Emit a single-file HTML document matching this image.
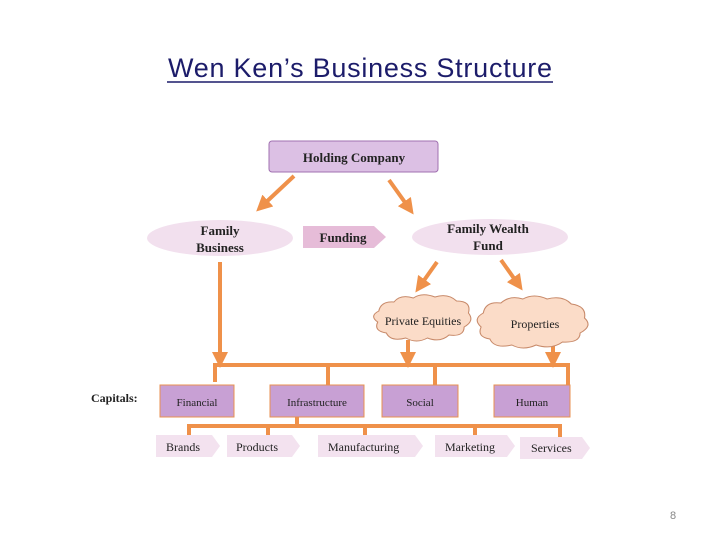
<!DOCTYPE html>
<html><head><style>
body{margin:0;width:720px;height:540px;background:#fff;overflow:hidden;font-family:"Liberation Serif",serif;}
svg text{font-family:"Liberation Serif",serif;}
</style></head><body>
<svg width="720" height="540" viewBox="0 0 720 540">
<defs>
<marker id="ah" markerWidth="4" markerHeight="4" refX="2" refY="2" orient="auto" markerUnits="strokeWidth">
<path d="M0,0 L4,2 L0,4 z" fill="#ef914a"/></marker>
</defs>
<text x="168" y="77" font-size="27" fill="#1c1c6a" textLength="384" lengthAdjust="spacing" style="font-family:'Liberation Sans',sans-serif">Wen Ken’s Business Structure</text>
<line x1="167" y1="82" x2="553" y2="82" stroke="#1c1c6a" stroke-width="1.5"/>

<rect x="269" y="141" width="169" height="31" rx="3" fill="#dcc0e4" stroke="#a070b0"/>
<text x="354" y="162" text-anchor="middle" font-size="13" font-weight="bold" fill="#222">Holding Company</text>

<g stroke="#ef914a" stroke-width="4" fill="none" marker-end="url(#ah)">
<line x1="294" y1="176" x2="262" y2="206"/>
<line x1="389" y1="180" x2="409" y2="208"/>
<line x1="437" y1="262" x2="420" y2="286"/>
<line x1="501" y1="260" x2="518" y2="284"/>
<line x1="220" y1="262" x2="220" y2="360"/>
<line x1="408" y1="340" x2="408" y2="360"/>
<line x1="553" y1="340" x2="553" y2="360"/>
</g>
<g stroke="#ef914a" stroke-width="4" fill="none">
<polyline points="215,382 215,365 568,365 568,385"/>
<line x1="328" y1="365" x2="328" y2="385"/>
<line x1="435" y1="365" x2="435" y2="385"/>
<line x1="297" y1="417" x2="297" y2="426"/>
<polyline points="189,437 189,426 560,426 560,437"/>
<line x1="268" y1="426" x2="268" y2="437"/>
<line x1="365" y1="426" x2="365" y2="437"/>
<line x1="475" y1="426" x2="475" y2="437"/>
</g>

<ellipse cx="220" cy="238" rx="73" ry="18" fill="#f2e0ee"/>
<text x="220" y="235" text-anchor="middle" font-size="13" font-weight="bold" fill="#222">Family</text>
<text x="220" y="252" text-anchor="middle" font-size="13" font-weight="bold" fill="#222">Business</text>

<path d="M303,226 L374,226 L386,237 L374,248 L303,248 z" fill="#e6bcd8"/>
<text x="343" y="242" text-anchor="middle" font-size="13" font-weight="bold" fill="#222">Funding</text>

<ellipse cx="490" cy="237" rx="78" ry="18" fill="#f2e0ee"/>
<text x="488" y="233" text-anchor="middle" font-size="13" font-weight="bold" fill="#222">Family Wealth</text>
<text x="488" y="250" text-anchor="middle" font-size="13" font-weight="bold" fill="#222">Fund</text>

<g fill="#fbdcc8" stroke="#c88a6a" stroke-width="1">
<path transform="translate(422,320) scale(1.08,1.0) translate(-420,-319)" d="M380,310 q2,-10 14,-9 q6,-8 18,-4 q8,-6 20,-1 q12,-4 20,4 q14,0 11,12 q6,8 -4,14 q0,10 -14,8 q-8,8 -20,3 q-10,6 -20,0 q-14,4 -18,-5 q-12,-2 -8,-11 q-8,-6 1,-11z"/>
<path transform="translate(535,323) scale(1.1,1.0) translate(-530,-325)" d="M483,315 q2,-12 16,-10 q8,-8 20,-4 q10,-6 22,0 q14,-4 22,5 q14,2 12,14 q8,8 -4,15 q0,10 -16,9 q-10,8 -24,3 q-12,6 -22,0 q-16,4 -20,-6 q-12,-2 -8,-12 q-8,-8 2,-14z"/>
</g>
<text x="423" y="325" text-anchor="middle" font-size="12" fill="#222">Private Equities</text>
<text x="535" y="328" text-anchor="middle" font-size="12" fill="#222">Properties</text>

<text x="91" y="402" font-size="12" font-weight="bold" fill="#222">Capitals:</text>
<g fill="#c8a0d4" stroke="#e89050" stroke-width="1">
<rect x="160" y="385" width="74" height="32"/>
<rect x="270" y="385" width="94" height="32"/>
<rect x="382" y="385" width="76" height="32"/>
<rect x="494" y="385" width="76" height="32"/>
</g>
<g font-size="11" fill="#222" text-anchor="middle">
<text x="197" y="406">Financial</text>
<text x="317" y="406">Infrastructure</text>
<text x="420" y="406">Social</text>
<text x="532" y="406">Human</text>
</g>

<g fill="#f3e2ef">
<path d="M156,435 L212,435 L220,446 L212,457 L156,457z"/>
<path d="M227,435 L292,435 L300,446 L292,457 L227,457z"/>
<path d="M318,435 L415,435 L423,446 L415,457 L318,457z"/>
<path d="M435,435 L507,435 L515,446 L507,457 L435,457z"/>
<path d="M520,437 L582,437 L590,448 L582,459 L520,459z"/>
</g>
<g font-size="12" fill="#222">
<text x="166" y="451">Brands</text>
<text x="236" y="451">Products</text>
<text x="328" y="451">Manufacturing</text>
<text x="445" y="451">Marketing</text>
<text x="531" y="452">Services</text>
</g>
<text x="673" y="519" text-anchor="middle" font-size="11" fill="#888" style="font-family:'Liberation Sans',sans-serif">8</text>
</svg>
</body></html>
